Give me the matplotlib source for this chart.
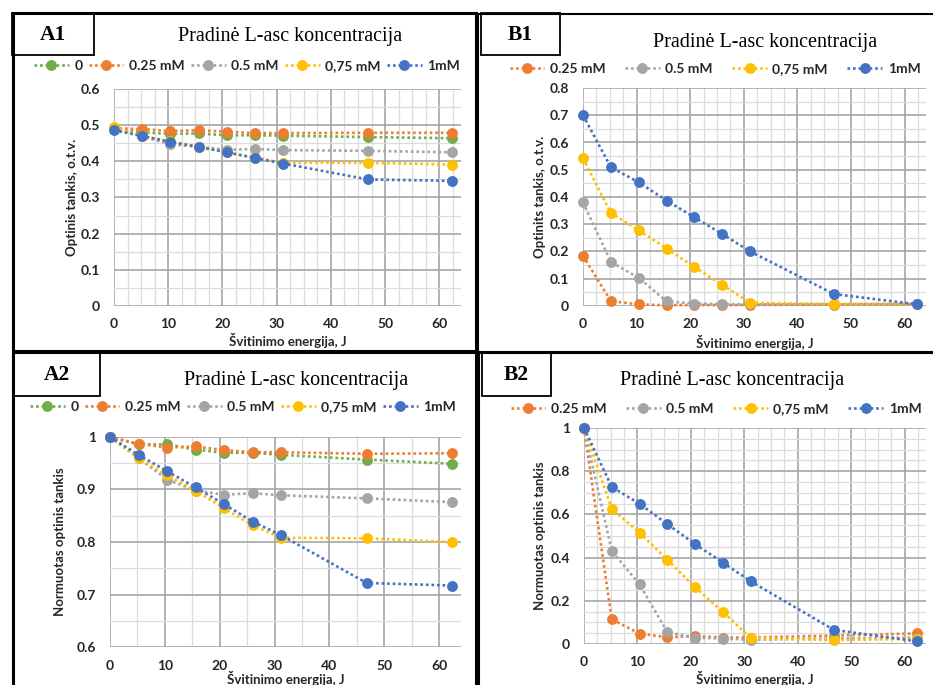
import matplotlib
matplotlib.use("Agg")
import matplotlib.pyplot as plt
from matplotlib.patches import Rectangle
from matplotlib.ticker import MultipleLocator, FuncFormatter

W, H = 933, 685

energy = [0, 5.2, 10.4, 15.6, 20.8, 26.0, 31.2, 46.8, 62.4]

series_names_A = ["0", "0.25 mM", "0.5 mM", "0,75 mM", "1mM"]
series_names_B = ["0.25 mM", "0.5 mM", "0,75 mM", "1mM"]
colors_A = ["#70AD47", "#ED7D31", "#A5A5A5", "#FFC000", "#4472C4"]
colors_B = ["#ED7D31", "#A5A5A5", "#FFC000", "#4472C4"]

# A1: optical density
a1_0 = [0.490, 0.480, 0.476, 0.477, 0.472, 0.472, 0.471, 0.467, 0.464]
a1_025 = [0.492, 0.489, 0.484, 0.486, 0.482, 0.478, 0.478, 0.479, 0.479]
a1_05 = [0.490, 0.469, 0.447, 0.440, 0.432, 0.434, 0.431, 0.429, 0.425]
a1_075 = [0.495, 0.470, 0.455, 0.440, 0.425, 0.410, 0.396, 0.396, 0.391]
a1_1 = [0.486, 0.470, 0.454, 0.440, 0.425, 0.409, 0.394, 0.350, 0.346]

# B1: optical density
b1_025 = [0.184, 0.018, 0.006, 0.003, 0.004, 0.003, 0.004, 0.005, 0.006]
b1_05 = [0.380, 0.162, 0.103, 0.017, 0.009, 0.007, 0.006, 0.007, 0.008]
b1_075 = [0.542, 0.341, 0.278, 0.211, 0.143, 0.077, 0.012, 0.007, 0.008]
b1_1 = [0.700, 0.509, 0.454, 0.387, 0.325, 0.264, 0.200, 0.044, 0.006]

# A2: normalised optical density
a2_0 = [1.0, 0.986, 0.986, 0.976, 0.970, 0.970, 0.966, 0.957, 0.949]
a2_025 = [1.0, 0.987, 0.980, 0.982, 0.975, 0.971, 0.971, 0.968, 0.969]
a2_05 = [1.0, 0.960, 0.919, 0.898, 0.890, 0.893, 0.889, 0.883, 0.876]
a2_075 = [1.0, 0.960, 0.927, 0.898, 0.864, 0.832, 0.808, 0.807, 0.800]
a2_1 = [1.0, 0.966, 0.935, 0.904, 0.872, 0.839, 0.813, 0.722, 0.717]

# B2: normalised optical density
b2_025 = [1.0, 0.114, 0.048, 0.031, 0.037, 0.030, 0.030, 0.039, 0.049]
b2_05 = [1.0, 0.431, 0.276, 0.055, 0.029, 0.025, 0.020, 0.025, 0.030]
b2_075 = [1.0, 0.626, 0.515, 0.390, 0.262, 0.148, 0.028, 0.018, 0.024]
b2_1 = [1.0, 0.727, 0.649, 0.555, 0.462, 0.377, 0.290, 0.065, 0.012]

title = "Pradinė L-asc koncentracija"
xlabel = "Švitinimo energija, J"

SANS = ["Lato", "DejaVu Sans"]
SERIF = ["Liberation Serif", "DejaVu Serif"]

fig = plt.figure(figsize=(W / 100, H / 100), dpi=100)


def fx(x):
    return x / W


def fy(y):
    return 1 - y / H


def rect_px(x0, y0, x1, y1, lw):
    r = Rectangle((fx(x0), fy(y1)), fx(x1) - fx(x0), fy(y0) - fy(y1),
                  transform=fig.transFigure, fill=False, edgecolor="black",
                  linewidth=lw, clip_on=False, zorder=5)
    fig.add_artist(r)


def fmt(v, pos):
    return "%g" % round(v, 3)


def make_panel(box, ylim, ymaj, xminor, series, names, colors, ylabel,
               title_xy, label, label_box, legend_xy, legend_w, ylab_x, xlab_y):
    x0, y0, x1, y1 = box
    ax = fig.add_axes([fx(x0), fy(y1), fx(x1) - fx(x0), fy(y0) - fy(y1)])
    ax.set_xlim(0, 64)
    ax.set_ylim(*ylim)
    ax.xaxis.set_major_locator(MultipleLocator(10))
    ax.xaxis.set_minor_locator(MultipleLocator(xminor))
    ax.yaxis.set_major_locator(MultipleLocator(ymaj))
    ax.yaxis.set_minor_locator(MultipleLocator(0.05))
    ax.yaxis.set_major_formatter(FuncFormatter(fmt))
    ax.grid(which="major", color="#a6a6a6", linewidth=1.2, zorder=0)
    ax.grid(which="minor", color="#dcdcdc", linewidth=0.9, zorder=0)
    ax.set_axisbelow(True)
    for s in ax.spines.values():
        s.set_visible(False)
    ax.tick_params(which="both", length=0)
    ax.tick_params(axis="x", pad=9)
    ax.tick_params(axis="y", pad=10)
    for t in ax.get_xticklabels() + ax.get_yticklabels():
        t.set_fontfamily(SANS)
        t.set_fontweight("bold")
        t.set_fontsize(10)
        t.set_color("#262626")
    handles = []
    for vals, c, n in zip(series, colors, names):
        h, = ax.plot(energy, vals, linestyle=(0, (1, 1.1)), linewidth=1.9,
                     color=c, marker="o", markersize=6.8, label=n, clip_on=False,
                     zorder=3)
        handles.append(h)
    fig.text(fx(ylab_x), fy((y0 + y1) / 2), ylabel, rotation=90, ha="center",
             va="center", fontsize=9.5, fontweight="bold", family=SANS,
             color="#262626")
    fig.text(fx((x0 + x1) / 2), fy(xlab_y), xlabel, ha="center",
             va="center", fontsize=9.5, fontweight="bold", family=SANS,
             color="#262626")
    fig.text(fx(title_xy[0]), fy(title_xy[1]), title, ha="center", va="center",
             fontsize=14.5, family=SERIF, color="black")
    lx0, ly0, lx1, ly1 = label_box
    rect_px(lx0, ly0, lx1, ly1, 1.3)
    fig.text(fx((lx0 + lx1) / 2), fy((ly0 + ly1) / 2 + 1), label, ha="center",
             va="center", fontsize=15.5, fontweight="bold", family=SERIF)
    leg = fig.legend(handles=handles, loc="center",
                     bbox_to_anchor=(fx(legend_xy[0]), fy(legend_xy[1])),
                     ncol=len(handles), frameon=False,
                     prop={"family": SANS, "weight": "bold", "size": 10},
                     handlelength=2.5, handletextpad=0.4,
                     columnspacing=legend_w, borderaxespad=0)
    for t in leg.get_texts():
        t.set_color("#262626")
    return ax


# panel frames
rect_px(13, 13, 476, 351, 2.2)
rect_px(478, 14, 940, 352, 1.5)
rect_px(13, 352, 476, 700, 2.2)
rect_px(479, 353, 940, 700, 1.5)

make_panel((114, 89, 461, 306), (0, 0.6), 0.1, 2.5,
           [a1_0, a1_025, a1_05, a1_075, a1_1], series_names_A, colors_A,
           "Optinis tankis, o.t.v.", (290, 36), "A1", (12, 13, 94, 55),
           (247, 66), 0.45, 72, 341)

make_panel((583, 88, 926, 306), (0, 0.8), 0.1, 2.5,
           [b1_025, b1_05, b1_075, b1_1], series_names_B, colors_B,
           "Optinits tankis, o.t.v.", (765, 42), "B1", (481, 13, 560, 55),
           (715, 69), 1.4, 540, 343)

make_panel((110, 437, 461, 647), (0.6, 1.0), 0.1, 5,
           [a2_0, a2_025, a2_05, a2_075, a2_1], series_names_A, colors_A,
           "Normuotas optinis tankis", (296, 380), "A2", (13, 352, 100, 396),
           (243, 407), 0.45, 60, 679)

make_panel((584, 428, 926, 644), (0, 1.0), 0.2, 2.5,
           [b2_025, b2_05, b2_075, b2_1], series_names_B, colors_B,
           "Normuotas optinis tankis", (732, 380), "B2", (482, 353, 551, 396),
           (716, 409), 1.4, 540, 679)

fig.savefig("out.png", dpi=100, facecolor="white")
